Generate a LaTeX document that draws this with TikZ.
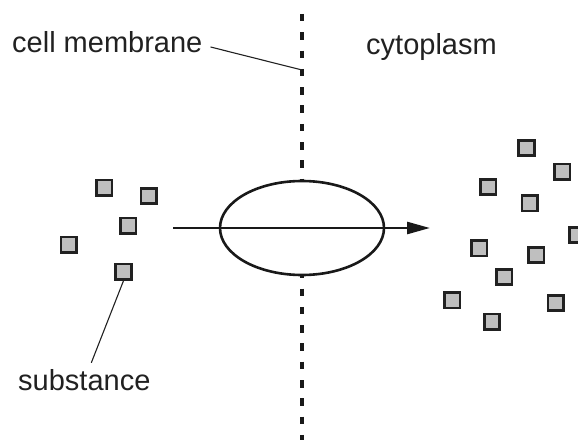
\documentclass[tikz,border=0pt]{standalone}
\usepackage{fontspec}
\setmainfont{Liberation Sans}
\usetikzlibrary{arrows.meta,shapes.geometric}

\tikzset{
	particle/.style = {draw=black!87, fill=black!25, line width=2.6pt,
		minimum size=15.5pt, inner sep=0pt},
	lbl/.style = {anchor=base west, inner sep=0pt, text=black!87,
		font=\fontsize{29}{34}\selectfont},
	leader/.style = {line width=1.1pt, black!87},
}

\begin{document}
\begin{tikzpicture}[x=1pt,y=1pt]
	\useasboundingbox (0,0) rectangle (578,440);
	% membrane
	\coordinate (mtop) at (302,426);
	\coordinate (mbot) at (302,0);
	\coordinate (mlead) at (302,370);
	\draw[line width=4.8pt, black!90, dash pattern=on 7.5pt off 10.8pt] (mtop) -- (mbot);
	% channel protein
	\node[ellipse, draw=black!90, fill=white, line width=2.6pt, inner sep=0pt,
		minimum width=164pt, minimum height=94pt] (channel) at (302,212) {};
	\coordinate (in) at (173,212);
	\coordinate (out) at (430,212);
	\draw[line width=2.6pt, black!90, -{Triangle[length=23pt,width=12pt]}] (in) -- (out);
	% substance outside
	\foreach \x/\y [count=\i] in {104.3/252.3, 148.9/244, 128.3/214.3, 68.6/195.3, 123.5/168.3}
		\node[particle] (o\i) at (\x,\y) {};
	% substance in cytoplasm
	\foreach \x/\y [count=\i] in {526.5/292, 562.2/268.3, 488.4/253, 529.6/236.7, 577.5/205,
		479.3/191.7, 536.2/185, 504.3/163, 452.3/139.7, 555.8/137, 492/118.3}
		\node[particle] (c\i) at (\x,\y) {};
	% labels
	\node[lbl] (memb) at (12,387) {cell membrane};
	\node[lbl] (cyto) at (366,385) {cytoplasm};
	\node[lbl] (subst) at (18,50) {substance};
	\draw[leader] ([shift={(8pt,6pt)}]memb.base east) -- (mlead);
	\draw[leader] ([shift={(7pt,6pt)}]subst.north) -- (o5.south);
\end{tikzpicture}
\end{document}
